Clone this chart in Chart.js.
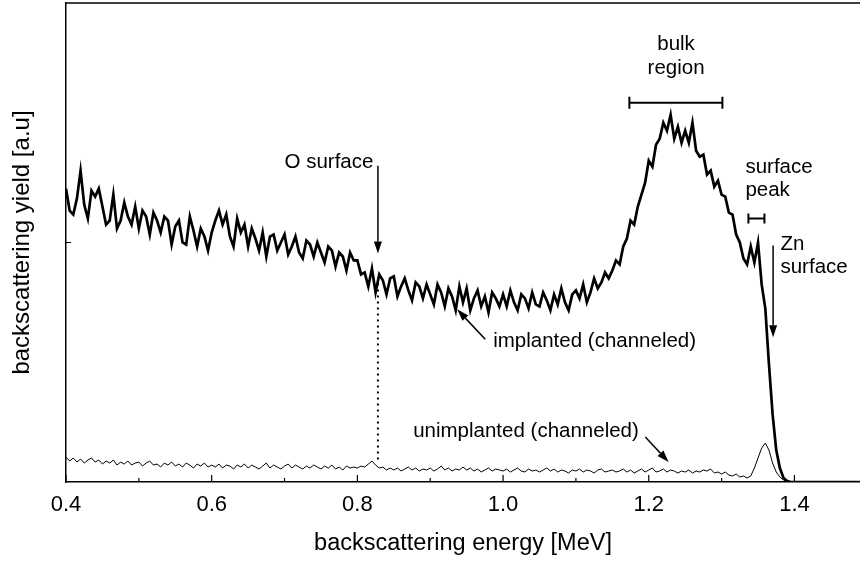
<!DOCTYPE html>
<html>
<head>
<meta charset="utf-8">
<title>RBS spectra</title>
<script src="https://cdn.jsdelivr.net/npm/chart.js@4.4.1/dist/chart.umd.min.js"></script>
<style>
  html, body { margin: 0; padding: 0; background: #fff; }
</style>
</head>
<body>
<canvas id="rbs" width="860" height="561"></canvas>
<script>
// channel energies [MeV]
const energy = [
  0.4,0.405,0.41,0.415,0.42,0.425,0.43,0.435,0.44,0.445,
  0.45,0.455,0.46,0.465,0.47,0.475,0.48,0.485,0.49,0.495,
  0.5,0.505,0.51,0.515,0.52,0.525,0.53,0.535,0.54,0.545,
  0.55,0.555,0.56,0.565,0.57,0.575,0.58,0.585,0.59,0.595,
  0.6,0.605,0.61,0.615,0.62,0.625,0.63,0.635,0.64,0.645,
  0.65,0.655,0.66,0.665,0.67,0.675,0.68,0.685,0.69,0.695,
  0.7,0.705,0.71,0.715,0.72,0.725,0.73,0.735,0.74,0.745,
  0.75,0.755,0.76,0.765,0.77,0.775,0.78,0.785,0.79,0.795,
  0.8,0.805,0.81,0.815,0.82,0.825,0.83,0.835,0.84,0.845,
  0.85,0.855,0.86,0.865,0.87,0.875,0.88,0.885,0.89,0.895,
  0.9,0.905,0.91,0.915,0.92,0.925,0.93,0.935,0.94,0.945,
  0.95,0.955,0.96,0.965,0.97,0.975,0.98,0.985,0.99,0.995,
  1.0,1.005,1.01,1.015,1.02,1.025,1.03,1.035,1.04,1.045,
  1.05,1.055,1.06,1.065,1.07,1.075,1.08,1.085,1.09,1.095,
  1.1,1.105,1.11,1.115,1.12,1.125,1.13,1.135,1.14,1.145,
  1.15,1.155,1.16,1.165,1.17,1.175,1.18,1.185,1.19,1.195,
  1.2,1.205,1.21,1.215,1.22,1.225,1.23,1.235,1.24,1.245,
  1.25,1.255,1.26,1.265,1.27,1.275,1.28,1.285,1.29,1.295,
  1.3,1.305,1.31,1.315,1.32,1.325,1.33,1.335,1.34,1.345,
  1.35,1.355,1.36,1.365,1.37,1.375,1.38,1.385,1.39,1.395,
  1.4,1.405,1.41,1.415,1.42,1.425,1.43,1.435,1.44,1.445,
  1.45,1.455,1.46,1.465,1.47,1.475,1.48,1.485,1.49
];

// implanted sample, channeled (thick curve)
const implanted = [
  294,272,268,284,312,278,264,292,286,294,
  276,258,262,288,254,262,280,266,258,276,
  254,272,266,248,270,262,250,266,262,238,
  256,262,240,238,266,252,236,254,246,232,
  250,262,272,258,268,246,236,264,250,258,
  236,254,244,232,250,226,246,248,232,240,
  248,228,236,246,230,224,242,238,226,240,
  230,220,236,232,216,230,226,212,230,222,
  222,208,210,196,214,190,208,202,188,204,
  206,186,196,204,192,182,200,196,184,198,
  188,178,198,190,176,194,186,172,196,180,
  194,172,184,192,176,186,170,190,184,176,
  188,176,192,180,172,188,184,174,190,178,
  176,190,182,172,188,178,194,180,172,188,
  192,184,198,180,190,204,194,200,210,204,
  212,222,218,236,244,262,258,276,288,300,
  322,316,338,344,360,352,368,344,356,340,
  352,340,360,332,326,328,308,312,296,302,
  288,286,270,268,248,240,224,218,236,220,
  240,198,174,118,68,32,14,4,1,0,
  0,0,0,0,0,0,0,0,0,0,
  0,0,0,0,0,0,0,0,0
];

// unimplanted sample, channeled (thin curve)
const unimplanted = [
  25,21,24,20,23,19,22,24,20,22,
  18,21,19,22,17,20,18,21,17,19,
  20,16,19,21,17,18,15,19,17,20,
  16,18,15,19,17,14,18,16,19,15,
  17,15,18,14,17,16,13,17,15,18,
  14,17,15,13,16,19,14,17,15,13,
  16,18,14,17,15,13,16,14,17,15,
  13,16,14,17,13,15,12,16,14,15,
  14,16,15,18,21,17,14,15,12,14,
  12,14,11,13,15,12,14,11,13,12,
  14,11,13,16,12,14,11,13,12,15,
  12,14,11,13,10,12,14,11,13,12,
  11,13,10,12,14,11,10,13,11,12,
  10,12,14,11,13,10,12,11,9,12,
  11,13,10,12,11,9,12,13,10,11,
  12,10,11,13,10,12,9,11,13,10,
  12,14,10,11,13,10,12,11,9,11,
  10,12,9,11,10,12,11,13,9,10,
  8,10,7,6,8,5,6,4,6,14,
  24,34,39,32,19,10,5,2,0,0,
  0,0,0,0,0,0,0,0,0,0,
  0,0,0,0,0,0,0,0,0
];

const xMajorTicks = [0.4, 0.6, 0.8, 1.0, 1.2, 1.4];
const xMinorTicks = [0.5, 0.7, 0.9, 1.1, 1.3];
const yTicks = [240];

const FONT = '"Liberation Sans", Arial, Helvetica, sans-serif';
const ANN_SIZE = 20.5;

// labels and markers, placed in data coordinates
const labels = [
  { text: 'O surface', x: 0.70, y: 315, align: 'left' },
  { text: 'implanted (channeled)', x: 0.9865, y: 135, align: 'left' },
  { text: 'unimplanted (channeled)', x: 0.8766, y: 45, align: 'left' },
  { text: 'bulk', x: 1.2375, y: 433, align: 'center' },
  { text: 'region', x: 1.2375, y: 409, align: 'center' },
  { text: 'surface', x: 1.3327, y: 310, align: 'left' },
  { text: 'peak', x: 1.3327, y: 287, align: 'left' },
  { text: 'Zn', x: 1.3808, y: 232, align: 'left' },
  { text: 'surface', x: 1.3808, y: 209, align: 'left' }
];
const arrows = [
  { from: [0.8282, 317], to: [0.8282, 229] },
  { from: [0.9755, 143], to: [0.937, 173] },
  { from: [1.1953, 45], to: [1.2273, 20] },
  { from: [1.3707, 237], to: [1.3707, 145] }
];
const brackets = [
  { x1: 1.1734, x2: 1.3011, y: 380, h: 6 },
  { x1: 1.3368, x2: 1.3588, y: 264, h: 5 }
];
const oSurfaceLine = { x: 0.8282, y1: 199, y2: 19 };

const rbsDecor = {
  id: 'rbsDecor',
  afterDraw(chart) {
    const { ctx, chartArea: a, scales: { x, y } } = chart;
    const px = v => x.getPixelForValue(v);
    const py = v => y.getPixelForValue(v);
    ctx.save();
    ctx.strokeStyle = '#000';
    ctx.fillStyle = '#000';

    // top frame
    ctx.lineWidth = 1.5;
    ctx.beginPath();
    ctx.moveTo(a.left, a.top);
    ctx.lineTo(a.right, a.top);
    ctx.stroke();

    // ticks pointing inward
    ctx.lineWidth = 1.2;
    ctx.beginPath();
    xMajorTicks.forEach(v => { ctx.moveTo(px(v), a.bottom); ctx.lineTo(px(v), a.bottom - 7); });
    xMinorTicks.forEach(v => { ctx.moveTo(px(v), a.bottom); ctx.lineTo(px(v), a.bottom - 4); });
    yTicks.forEach(v => { ctx.moveTo(a.left, py(v)); ctx.lineTo(a.left + 5, py(v)); });
    ctx.stroke();

    // dotted marker under O surface
    ctx.lineWidth = 2;
    ctx.setLineDash([2, 4]);
    ctx.beginPath();
    ctx.moveTo(px(oSurfaceLine.x), py(oSurfaceLine.y1));
    ctx.lineTo(px(oSurfaceLine.x), py(oSurfaceLine.y2));
    ctx.stroke();
    ctx.setLineDash([]);

    // arrows
    arrows.forEach(ar => {
      const x1 = px(ar.from[0]), y1 = py(ar.from[1]);
      const x2 = px(ar.to[0]), y2 = py(ar.to[1]);
      const ang = Math.atan2(y2 - y1, x2 - x1);
      const len = 12, half = 4;
      const bx = x2 - len * Math.cos(ang), by = y2 - len * Math.sin(ang);
      ctx.lineWidth = 1.5;
      ctx.beginPath();
      ctx.moveTo(x1, y1);
      ctx.lineTo(bx, by);
      ctx.stroke();
      ctx.beginPath();
      ctx.moveTo(x2, y2);
      ctx.lineTo(bx + half * Math.sin(ang), by - half * Math.cos(ang));
      ctx.lineTo(bx - half * Math.sin(ang), by + half * Math.cos(ang));
      ctx.closePath();
      ctx.fill();
    });

    // range brackets
    ctx.lineWidth = 2;
    brackets.forEach(b => {
      const l = px(b.x1), r = px(b.x2), yy = py(b.y);
      ctx.beginPath();
      ctx.moveTo(l, yy); ctx.lineTo(r, yy);
      ctx.moveTo(l, yy - b.h); ctx.lineTo(l, yy + b.h);
      ctx.moveTo(r, yy - b.h); ctx.lineTo(r, yy + b.h);
      ctx.stroke();
    });

    // text labels
    ctx.font = ANN_SIZE + 'px ' + FONT;
    ctx.textBaseline = 'alphabetic';
    labels.forEach(t => {
      ctx.textAlign = t.align;
      ctx.fillText(t.text, px(t.x), py(t.y));
    });
    ctx.restore();
  }
};

new Chart(document.getElementById('rbs'), {
  type: 'line',
  data: {
    datasets: [
      {
        label: 'implanted (channeled)',
        data: energy.map((e, i) => ({ x: e, y: implanted[i] })),
        borderColor: '#000',
        borderWidth: 2.7,
        pointRadius: 0,
        tension: 0
      },
      {
        label: 'unimplanted (channeled)',
        data: energy.map((e, i) => ({ x: e, y: unimplanted[i] })),
        borderColor: '#000',
        borderWidth: 1,
        pointRadius: 0,
        tension: 0
      }
    ]
  },
  options: {
    responsive: false,
    animation: false,
    devicePixelRatio: 1,
    layout: { padding: { top: 3, left: 0, right: 0, bottom: 0 } },
    plugins: { legend: { display: false }, tooltip: { enabled: false } },
    scales: {
      x: {
        type: 'linear',
        min: 0.4,
        max: 1.49,
        afterBuildTicks: s => { s.ticks = xMajorTicks.map(v => ({ value: v })); },
        afterFit: s => { s.height = 79; },
        grid: { display: false },
        border: { display: true, color: '#000', width: 1.5 },
        ticks: {
          color: '#000',
          font: { family: FONT, size: 22 },
          padding: 2,
          maxRotation: 0,
          autoSkip: false,
          callback: v => v.toFixed(1)
        },
        title: {
          display: true,
          text: 'backscattering energy [MeV]',
          color: '#000',
          font: { family: FONT, size: 23.5 },
          padding: { top: 0, bottom: 3 }
        }
      },
      y: {
        type: 'linear',
        min: 0,
        max: 480,
        afterFit: s => { s.width = 66; },
        grid: { display: false },
        border: { display: true, color: '#000', width: 1.5 },
        ticks: { display: false },
        title: {
          display: true,
          text: 'backscattering yield [a.u]',
          color: '#000',
          font: { family: FONT, size: 24 },
          padding: { top: 8, bottom: 0 }
        }
      }
    }
  },
  plugins: [rbsDecor]
});
</script>
</body>
</html>
